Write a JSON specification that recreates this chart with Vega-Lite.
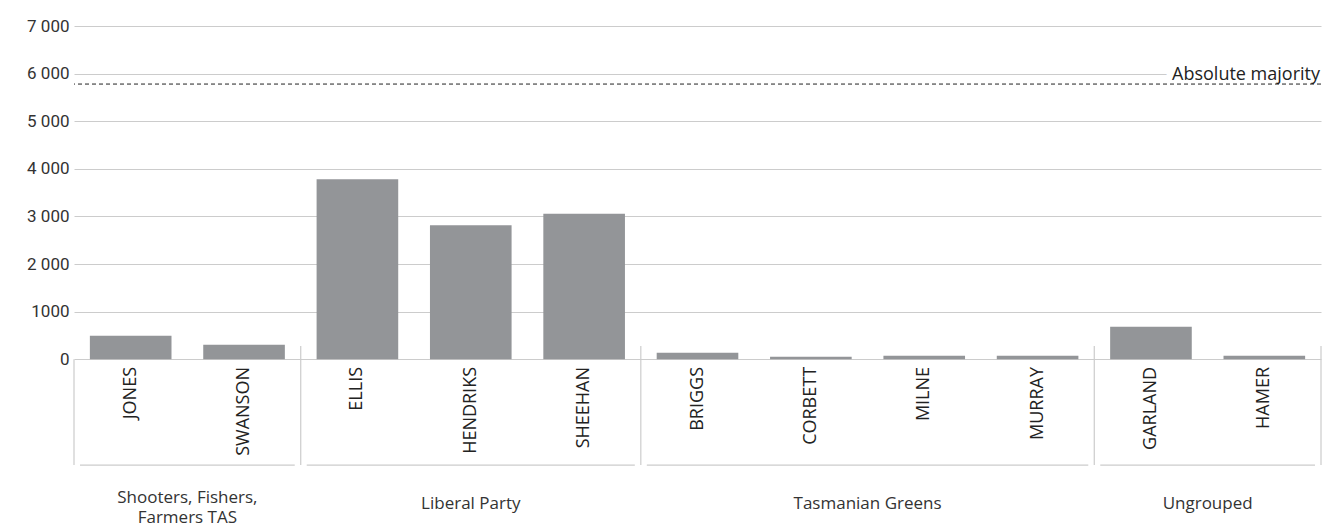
{
  "$schema": "https://vega.github.io/schema/vega-lite/v6.json",
  "width": 1247,
  "height": 500,
  "autosize": {"type": "none"},
  "padding": {"left": 74, "top": 26, "right": 4, "bottom": 4},
  "background": "white",
  "config": {"view": {"stroke": null}, "font": "Open Sans"},
  "datasets": {
    "votes": [
      {"candidate": "JONES", "group": "Shooters, Fishers, Farmers TAS", "votes": 495},
      {"candidate": "SWANSON", "group": "Shooters, Fishers, Farmers TAS", "votes": 305},
      {"candidate": "ELLIS", "group": "Liberal Party", "votes": 3784},
      {"candidate": "HENDRIKS", "group": "Liberal Party", "votes": 2817},
      {"candidate": "SHEEHAN", "group": "Liberal Party", "votes": 3055},
      {"candidate": "BRIGGS", "group": "Tasmanian Greens", "votes": 140},
      {"candidate": "CORBETT", "group": "Tasmanian Greens", "votes": 56},
      {"candidate": "MILNE", "group": "Tasmanian Greens", "votes": 77},
      {"candidate": "MURRAY", "group": "Tasmanian Greens", "votes": 77},
      {"candidate": "GARLAND", "group": "Ungrouped", "votes": 685},
      {"candidate": "HAMER", "group": "Ungrouped", "votes": 77}
    ],
    "groups": [
      {"group": "Shooters, Fishers, Farmers TAS", "label": ["Shooters, Fishers,", "Farmers TAS"], "first": "JONES", "last": "SWANSON", "centre": "JONES", "even": true},
      {"group": "Liberal Party", "label": ["Liberal Party"], "first": "ELLIS", "last": "SHEEHAN", "centre": "HENDRIKS", "even": false},
      {"group": "Tasmanian Greens", "label": ["Tasmanian Greens"], "first": "BRIGGS", "last": "MURRAY", "centre": "CORBETT", "even": true},
      {"group": "Ungrouped", "label": ["Ungrouped"], "first": "GARLAND", "last": "HAMER", "centre": "GARLAND", "even": true}
    ]
  },
  "layer": [
    {
      "data": {"name": "votes"},
      "mark": {"type": "bar", "color": "#939598", "width": {"band": 0.72}},
      "encoding": {
        "x": {
          "field": "candidate", "type": "nominal", "sort": null,
          "scale": {
            "domain": ["JONES", "SWANSON", "ELLIS", "HENDRIKS", "SHEEHAN", "BRIGGS", "CORBETT", "MILNE", "MURRAY", "GARLAND", "HAMER"],
            "paddingInner": 0, "paddingOuter": 0
          },
          "axis": null
        },
        "y": {
          "field": "votes", "type": "quantitative",
          "scale": {"domain": [-3500, 7000], "nice": false, "zero": false},
          "axis": {
            "values": [0, 1000, 2000, 3000, 4000, 5000, 6000, 7000],
            "grid": true, "gridColor": "#cccccc", "gridWidth": 1,
            "domain": false, "ticks": false, "title": null,
            "labelFont": "Roboto", "labelFontSize": 17,
            "labelColor": "#333333", "labelPadding": 5,
            "labelExpr": "datum.value <= 1000 ? format(datum.value, 'd') : replace(format(datum.value, ','), ',', ' ')"
          }
        },
        "y2": {"datum": 0}
      }
    },
    {
      "data": {"name": "votes"},
      "mark": {"type": "text", "angle": 270, "align": "right", "baseline": "middle", "fontSize": 18, "color": "#222222"},
      "encoding": {
        "x": {"field": "candidate", "type": "nominal", "sort": null},
        "y": {"datum": -160},
        "text": {"field": "candidate"}
      }
    },
    {
      "data": {"name": "groups"},
      "mark": {"type": "rule", "color": "#cccccc", "strokeWidth": 1.2},
      "encoding": {
        "x": {"field": "last", "type": "nominal", "bandPosition": 1},
        "y": {"datum": 280},
        "y2": {"datum": -2220}
      }
    },
    {
      "data": {"values": [{"candidate": "JONES"}]},
      "mark": {"type": "rule", "color": "#cccccc", "strokeWidth": 1.2},
      "encoding": {
        "x": {"field": "candidate", "type": "nominal", "bandPosition": 0},
        "y": {"datum": 0},
        "y2": {"datum": -2220}
      }
    },
    {
      "data": {"name": "groups"},
      "mark": {"type": "rule", "color": "#cccccc", "strokeWidth": 1.2, "xOffset": 6, "x2Offset": -6},
      "encoding": {
        "x": {"field": "first", "type": "nominal", "bandPosition": 0},
        "x2": {"field": "last", "bandPosition": 1},
        "y": {"datum": -2220}
      }
    },
    {
      "data": {"name": "groups"},
      "transform": [{"filter": "datum.even && length(datum.label) == 1"}],
      "mark": {"type": "text", "align": "center", "baseline": "middle", "fontSize": 17, "color": "#333333"},
      "encoding": {
        "x": {"field": "centre", "type": "nominal", "bandPosition": 1},
        "y": {"datum": -3030},
        "text": {"field": "label"}
      }
    },
    {
      "data": {"name": "groups"},
      "transform": [{"filter": "length(datum.label) > 1"}],
      "mark": {"type": "text", "align": "center", "baseline": "middle", "fontSize": 17, "color": "#333333", "lineHeight": 20, "dy": -6},
      "encoding": {
        "x": {"field": "centre", "type": "nominal", "bandPosition": 1},
        "y": {"datum": -3030},
        "text": {"field": "label"}
      }
    },
    {
      "data": {"name": "groups"},
      "transform": [{"filter": "!datum.even"}],
      "mark": {"type": "text", "align": "center", "baseline": "middle", "fontSize": 17, "color": "#333333"},
      "encoding": {
        "x": {"field": "centre", "type": "nominal", "bandPosition": 0.5},
        "y": {"datum": -3030},
        "text": {"field": "label"}
      }
    },
    {
      "data": {"values": [{"label": "Absolute majority", "quota": 5781}]},
      "mark": {"type": "text", "align": "right", "baseline": "alphabetic", "dy": -4, "dx": -1, "fontSize": 18, "color": "white", "stroke": "white", "strokeWidth": 14, "strokeJoin": "round"},
      "encoding": {
        "x": {"datum": "HAMER", "type": "nominal", "bandPosition": 1},
        "y": {"field": "quota", "type": "quantitative"},
        "text": {"field": "label"}
      }
    },
    {
      "data": {"values": [{"quota": 5781}]},
      "mark": {"type": "rule", "color": "#222222", "strokeWidth": 1, "strokeDash": [4, 3]},
      "encoding": {
        "y": {"field": "quota", "type": "quantitative"}
      }
    },
    {
      "data": {"values": [{"label": "Absolute majority", "quota": 5781}]},
      "mark": {"type": "text", "align": "right", "baseline": "alphabetic", "dy": -4, "dx": -1, "fontSize": 18, "color": "#222222"},
      "encoding": {
        "x": {"datum": "HAMER", "type": "nominal", "bandPosition": 1},
        "y": {"field": "quota", "type": "quantitative"},
        "text": {"field": "label"}
      }
    }
  ]
}
